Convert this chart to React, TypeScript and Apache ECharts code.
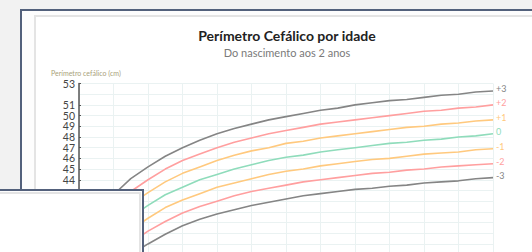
import React, { useEffect, useRef } from "react";
import * as echarts from "echarts";

const months = [0,1,2,3,4,5,6,7,8,9,10,11,12,13,14,15,16,17,18,19,20,21,22,23,24];
const sdP3 = [38.3,40.8,42.6,44.1,45.2,46.2,47.0,47.7,48.3,48.8,49.2,49.6,49.9,50.2,50.5,50.7,51.0,51.2,51.4,51.5,51.7,51.9,52.0,52.2,52.3];
const sdP2 = [37.0,39.6,41.5,42.9,44.0,45.0,45.8,46.4,47.0,47.5,47.9,48.3,48.6,48.9,49.2,49.4,49.6,49.8,50.0,50.2,50.4,50.5,50.7,50.8,51.0];
const sdP1 = [35.7,38.4,40.3,41.7,42.8,43.8,44.6,45.2,45.8,46.3,46.7,47.0,47.4,47.6,47.9,48.1,48.3,48.5,48.7,48.9,49.0,49.2,49.3,49.5,49.6];
const sd0 = [34.5,37.3,39.1,40.5,41.6,42.6,43.3,44.0,44.5,45.0,45.4,45.8,46.1,46.3,46.6,46.8,47.0,47.2,47.4,47.5,47.7,47.8,48.0,48.1,48.3];
const sdM1 = [33.2,36.1,38.0,39.3,40.4,41.4,42.1,42.7,43.3,43.7,44.1,44.5,44.8,45.0,45.3,45.5,45.7,45.9,46.0,46.2,46.4,46.5,46.6,46.8,46.9];
const sdM2 = [31.9,34.9,36.8,38.1,39.2,40.1,40.9,41.5,42.0,42.5,42.9,43.2,43.5,43.8,44.0,44.2,44.4,44.6,44.7,44.9,45.0,45.2,45.3,45.4,45.5];
const sdM3 = [30.7,33.8,35.6,37.0,38.0,38.9,39.7,40.3,40.8,41.2,41.6,41.9,42.2,42.5,42.7,42.9,43.1,43.2,43.4,43.5,43.7,43.8,43.9,44.1,44.2];

const seriesNames = ["+3", "+2", "+1", "0", "-1", "-2", "-3"];
const seriesValues = [sdP3, sdP2, sdP1, sd0, sdM1, sdM2, sdM3];
const seriesColors = ["#858585", "#ff9f9f", "#ffc97e", "#8fdcbb", "#ffc97e", "#ff9f9f", "#858585"];

const titleText = "Perímetro Cefálico por idade";
const subtitleText = "Do nascimento aos 2 anos";
const yAxisName = "Perímetro cefálico (cm)";
const firstVisibleTick = 44;

const FONT = "Lato, 'Noto Sans', sans-serif";

export default function App() {
  const ref = useRef<HTMLDivElement>(null);

  useEffect(() => {
    if (!ref.current) return;
    const chart = echarts.init(ref.current, undefined, { renderer: "svg" });
    chart.setOption({
      animation: false,
      backgroundColor: "transparent",
      textStyle: { fontFamily: FONT },
      grid: { left: 43, top: 66.5, width: 414, height: 246 },
      graphic: [
        { type: "text", x: 251, y: 18, style: { text: titleText, font: `bold 14px ${FONT}`, fill: "#222", textAlign: "center", textVerticalAlign: "middle" } },
        { type: "text", x: 251, y: 35.5, style: { text: subtitleText, font: `11px ${FONT}`, fill: "#7a7a7a", textAlign: "center", textVerticalAlign: "middle" } },
        { type: "text", x: 15, y: 56, style: { text: yAxisName, font: `7px ${FONT}`, fill: "#a9a27a", textAlign: "left", textVerticalAlign: "middle" } },
      ],
      xAxis: {
        type: "value",
        min: 0,
        max: 24,
        interval: 2,
        axisLine: { show: false },
        axisTick: { show: false },
        axisLabel: { show: false },
        splitLine: { show: true, lineStyle: { color: "#eaf2f2", width: 1 } },
      },
      yAxis: {
        type: "value",
        min: 30,
        max: 53,
        interval: 1,
        axisLine: { show: true, lineStyle: { color: "#555", width: 1.5 } },
        axisTick: { show: true, inside: true, length: 2, lineStyle: { color: "#555" } },
        axisLabel: {
          color: "#444",
          fontSize: 10.5,
          lineHeight: 10,
          fontFamily: FONT,
          margin: 4,
          showMaxLabel: true,
          showMinLabel: false,
          hideOverlap: false,
          formatter: (v: number) => (v >= firstVisibleTick ? String(v) : ""),
        },
        splitLine: { show: true, lineStyle: { color: "#eaf2f2", width: 1 } },
      },
      series: seriesNames.map((name, i) => ({
        type: "line",
        name,
        data: months.map((m, j) => [m, seriesValues[i][j]]),
        showSymbol: false,
        smooth: false,
        lineStyle: { color: seriesColors[i], width: 1.6 },
        itemStyle: { color: seriesColors[i] },
        endLabel: {
          show: true,
          formatter: name,
          color: seriesColors[i],
          fontSize: 9,
          fontFamily: FONT,
          distance: 3,
          offset: [0, -2],
        },
      })),
    });
    return () => chart.dispose();
  }, []);

  return (
    <div style={{ position: "fixed", left: 0, top: 0, width: 532, height: 252, overflow: "hidden", background: "#f2f2f2" }}>
      <div style={{ position: "absolute", left: 20, top: 9, width: 700, height: 400, boxSizing: "border-box", border: "2px solid #53617c", background: "#fdfdfd" }} />
      <div style={{ position: "absolute", left: 34, top: 15, width: 700, height: 400, boxSizing: "border-box", border: "2px solid #e4e4e4", background: "#ffffff" }} />
      <div ref={ref} style={{ position: "absolute", left: 36, top: 17, width: 520, height: 340 }} />
      <div style={{ position: "absolute", left: -40, top: 189, width: 184, height: 120, boxSizing: "border-box", border: "2px solid #53617c", background: "#fdfdfd" }}>
        <div style={{ position: "absolute", right: 1, top: 1, width: 200, height: 120, boxSizing: "border-box", border: "2px solid #e4e4e4", background: "#ffffff" }} />
      </div>
    </div>
  );
}
